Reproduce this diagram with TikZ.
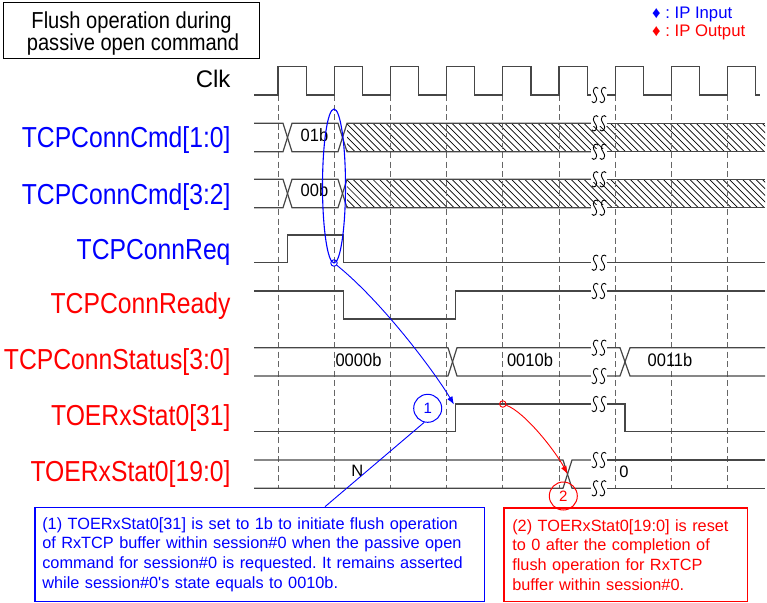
\documentclass[tikz,border=0pt]{standalone}
\usepackage{fontspec}
\setmainfont{Liberation Sans}
\usetikzlibrary{shapes.geometric,arrows.meta}
\definecolor{ipblue}{RGB}{0,0,255}
\definecolor{ipred}{RGB}{255,0,0}
\definecolor{sig}{RGB}{70,70,70}
\newcommand{\vst}[2]{\scalebox{1}[#1]{#2}}
\newcommand{\sonemark}[2]{%
  \draw[brkline] (#1+3.2,#2-6.5) .. controls (#1+1.5,#2-9.5) and (#1-4.5,#2-6.5) .. (#1,#2)
     .. controls (#1+4.5,#2+6.5) and (#1-1.5,#2+9.5) .. (#1-3.2,#2+6.5);
}
\newcommand{\sbrk}[1]{%
  \fill[white] (591,#1-2.5) rectangle (607,#1+2.5);
  \sonemark{595}{#1}
  \sonemark{603}{#1}
}
\frenchspacing
\begin{document}
\begin{tikzpicture}[x=1pt,y=-1pt,
  sigline/.style={draw=sig, line width=1.2pt, line join=miter},
  clkdash/.style={draw=black!60, line width=1pt, dash pattern=on 6pt off 3.5pt},
  hatchline/.style={draw=black, line width=0.7pt},
  brkline/.style={draw=black, line width=0.9pt},
  lbl/.style={anchor=base east, inner sep=0, font=\fontsize{24.7}{28}\selectfont},
  val/.style={anchor=base, inner sep=0, font=\fontsize{16.5}{18}\selectfont},
  note/.style={anchor=north west, align=left, inner ysep=0, line width=1.2pt,
    font=\fontsize{16.3}{19.7}\selectfont},
  numcirc/.style={circle, line width=1pt, minimum size=28pt, inner sep=0,
    font=\fontsize{15}{18}\selectfont}]
\useasboundingbox (0,0) rectangle (767,602);

% title
\node[draw=black, line width=1pt, anchor=north west, minimum width=256pt, minimum height=55.5pt, inner sep=0] (title) at (3,2) {};
\node[anchor=base, inner sep=0, font=\fontsize{20.1}{24}\selectfont] (title1) at (131.5,28.3) {\vst{1.15}{Flush operation during}};
\node[anchor=base, inner sep=0, font=\fontsize{20.1}{24}\selectfont] (title2) at (133,50) {\vst{1.15}{passive open command}};

% legend
\node[anchor=base west, inner sep=0, text=ipblue, font=\fontsize{16.7}{20}\selectfont] (lg1) at (652,19) {♦ : IP Input};
\node[anchor=base west, inner sep=0, text=ipred, font=\fontsize{16.7}{20}\selectfont] (lg2) at (652,36.7) {♦ : IP Output};

% labels
\node[lbl, font=\fontsize{24}{28}\selectfont] (lclk) at (230.7,87.7) {Clk};
\node[lbl, text=ipblue] (lcmd1) at (230.7,147.3) {\vst{1.17}{TCPConnCmd[1:0]}};
\node[lbl, text=ipblue] (lcmd3) at (230.7,204) {\vst{1.17}{TCPConnCmd[3:2]}};
\node[lbl, text=ipblue] (lreq) at (230.7,259) {\vst{1.17}{TCPConnReq}};
\node[lbl, text=ipred] (lrdy) at (230.7,313.3) {\vst{1.17}{TCPConnReady}};
\node[lbl, text=ipred] (lsts) at (230.7,369.3) {\vst{1.17}{TCPConnStatus[3:0]}};
\node[lbl, text=ipred] (ls31) at (230.7,425) {\vst{1.17}{TOERxStat0[31]}};
\node[lbl, text=ipred] (ls19) at (230.7,481.7) {\vst{1.17}{TOERxStat0[19:0]}};

% hatch
\begin{scope}
\clip (347,123.3) rectangle (765,151.7);
\foreach \x in {320,326.6,...,770} \draw[hatchline] (\x,123.3) -- (\x+28.4,151.7);
\end{scope}
\begin{scope}
\clip (347,179.3) rectangle (765,207.7);
\foreach \x in {320,326.6,...,770} \draw[hatchline] (\x,179.3) -- (\x+28.4,207.7);
\end{scope}

% dashed clock lines
\foreach \x in {278,334.2,390.4,446.6,502.8,559,615.2,671.4,727.6}
  \draw[clkdash] (\x,95) -- (\x,489);

% clock
\draw[sigline] (254,95) -- (278,95) -- (278,66.7) -- (306.1,66.7) -- (306.1,95) -- (334.2,95) -- (334.2,66.7) -- (362.3,66.7) -- (362.3,95) -- (390.4,95) -- (390.4,66.7) -- (418.5,66.7) -- (418.5,95) -- (446.6,95) -- (446.6,66.7) -- (474.7,66.7) -- (474.7,95) -- (502.8,95) -- (502.8,66.7) -- (530.9,66.7) -- (530.9,95) -- (559,95) -- (559,66.7) -- (587.1,66.7) -- (587.1,95) -- (595,95);
\draw[sigline] (603,95) -- (615.2,95) -- (615.2,66.7) -- (643.3,66.7) -- (643.3,95) -- (671.4,95) -- (671.4,66.7) -- (699.5,66.7) -- (699.5,95) -- (727.6,95) -- (727.6,66.7) -- (755.7,66.7) -- (755.7,95) -- (760,95);

% TCPConnCmd[1:0]
\draw[sigline] (254,123.3) -- (283,123.3) -- (292,151.7) -- (338,151.7) -- (347,123.3) -- (595,123.3);
\draw[sigline] (254,151.7) -- (283,151.7) -- (292,123.3) -- (338,123.3) -- (347,151.7) -- (595,151.7);
\draw[sigline] (603,123.3) -- (765,123.3);
\draw[sigline] (603,151.7) -- (765,151.7);
% TCPConnCmd[3:2]
\draw[sigline] (254,179.3) -- (283,179.3) -- (292,207.7) -- (338,207.7) -- (347,179.3) -- (595,179.3);
\draw[sigline] (254,207.7) -- (283,207.7) -- (292,179.3) -- (338,179.3) -- (347,207.7) -- (595,207.7);
\draw[sigline] (603,179.3) -- (765,179.3);
\draw[sigline] (603,207.7) -- (765,207.7);
% TCPConnReq
\draw[sigline] (254,262.7) -- (287.3,262.7) -- (287.3,235) -- (343.3,235) -- (343.3,262.7) -- (595,262.7);
\draw[sigline] (603,262.7) -- (765,262.7);
% TCPConnReady
\draw[sigline] (254,291) -- (343.3,291) -- (343.3,319) -- (455.7,319) -- (455.7,291) -- (595,291);
\draw[sigline] (603,291) -- (765,291);
% TCPConnStatus
\draw[sigline] (254,347.7) -- (448,347.7) -- (457,376) -- (595,376);
\draw[sigline] (254,376) -- (448,376) -- (457,347.7) -- (595,347.7);
\draw[sigline] (603,376) -- (620,376) -- (630,347.7) -- (765,347.7);
\draw[sigline] (603,347.7) -- (620,347.7) -- (630,376) -- (765,376);
% TOERxStat0[31]
\draw[sigline] (254,431.7) -- (455.7,431.7) -- (455.7,404) -- (595,404);
\draw[sigline] (603,404) -- (625,404) -- (625,431.7) -- (765,431.7);
% TOERxStat0[19:0]
\draw[sigline] (254,460) -- (563,460) -- (572,488.3) -- (595,488.3);
\draw[sigline] (254,488.3) -- (563,488.3) -- (572,460) -- (595,460);
\draw[sigline] (603,460) -- (765,460);
\draw[sigline] (603,488.3) -- (765,488.3);

% break marks
\foreach \yy in {95,123.3,151.7,179.3,207.7,262.7,291,347.7,376,404,460,488.3} {\sbrk{\yy}}

% values
\node[val] (v01) at (314.5,141) {\vst{1.08}{01b}};
\node[val] (v00) at (314.5,196.7) {\vst{1.08}{00b}};
\node[val] (s0) at (358.5,366) {\vst{1.1}{0000b}};
\node[val] (s2) at (530,366) {\vst{1.1}{0010b}};
\node[val] (s3) at (670,366) {\vst{1.1}{0011b}};
\node[val] (vN) at (357.3,476.7) {N};
\node[val] (vZ) at (624,477) {0};

% annotations
\node[ellipse, draw=ipblue, line width=1.1pt, minimum width=23pt, minimum height=154pt, inner sep=0] (ell) at (334,186) {};
\node[circle, draw=ipblue, line width=0.9pt, minimum size=6.5pt, inner sep=0] (sc1) at (334,263) {};
\node[circle, draw=ipred, line width=0.9pt, minimum size=6.5pt, inner sep=0] (sc2) at (502.8,404) {};
\coordinate (a1) at (454,404.5);
\coordinate (a2) at (567.5,474);
\draw[ipblue, line width=0.9pt, -{Latex[length=8pt,width=6pt]}] (sc1) .. controls (380,300) and (432,368) .. (a1);
\draw[ipred, line width=0.9pt, -{Latex[length=8pt,width=6pt]}] (sc2) .. controls (525,412) and (556,452) .. (a2);

\node[numcirc, draw=ipblue, text=ipblue] (c1) at (427.7,408.3) {1};
\node[numcirc, draw=ipred, text=ipred] (c2) at (563.3,496) {2};

\node[note, draw=ipblue, text=ipblue, text width=434.9pt, inner xsep=7.4pt, minimum height=94.3pt] (box1) at (34.3,506.7)
 {(1) TOERxStat0[31] is set to 1b to initiate flush operation\\of RxTCP buffer within session\#0 when the passive open\\command for session\#0 is requested. It remains asserted\\while session\#0\textquotesingle s state equals to 0010b.};
\node[note, draw=ipred, text=ipred, text width=226.6pt, inner xsep=8.4pt, minimum height=93.7pt] (box2) at (503.3,507.3)
 {(2) TOERxStat0[19:0] is reset\\to 0 after the completion of\\flush operation for RxTCP\\buffer within session\#0.};
\coordinate (p1) at (325,506.7);
\draw[ipblue, line width=0.9pt] (c1.256) -- (p1);
\end{tikzpicture}
\end{document}
